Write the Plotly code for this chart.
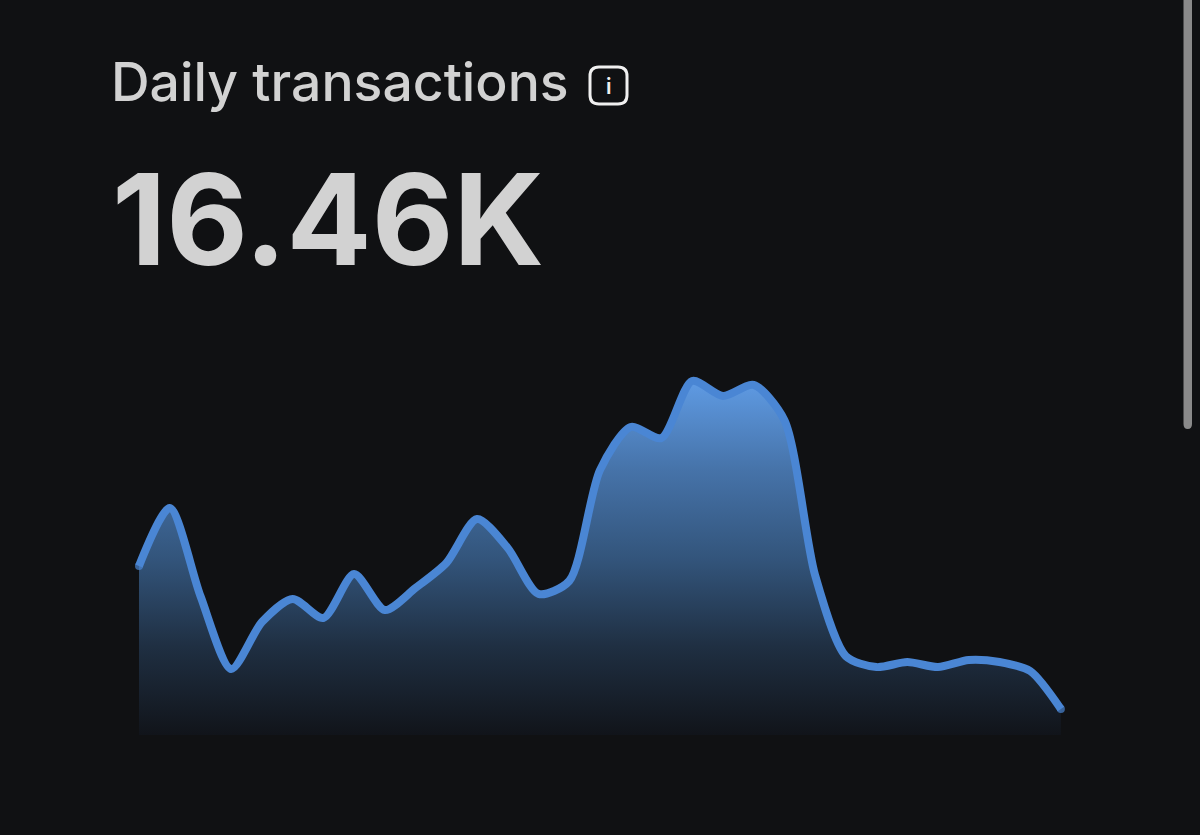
import plotly.graph_objects as go

# Values in thousands (relative sparkline scale)
days = list(range(31))
transactions_k = [107.0, 143.7, 88.0, 41.8, 71.5, 86.1, 74.1, 101.9, 79.1, 93.1, 108.9,
                  136.7, 118.4, 89.3, 97.5, 167.7, 195.0, 188.0, 224.1, 214.6, 221.6,
                  199.4, 101.3, 50.0, 43.0, 46.2, 43.0, 47.5, 46.2, 40.5, 16.46]
title_text = "Daily transactions"
value_text = "16.46K"

BG = "#101113"
TEXT = "#d2d2d2"
LINE = "#4a86d4"
W, H = 1200, 835

fig = go.Figure()
fig.add_trace(go.Scatter(
    x=days, y=transactions_k,
    mode="lines+markers",
    line=dict(color=LINE, width=8, shape="spline", smoothing=0.75),
    marker=dict(color=LINE, size=[8] + [0] * 29 + [8], line=dict(width=0)),
    fill="tozeroy",
    fillgradient=dict(
        type="vertical",
        colorscale=[[0, "#11141a"], [0.25, "#1f2f42"], [0.5, "#33557c"], [0.75, "#4673a9"], [1, "#5f9be4"]],
    ),
    hoverinfo="skip",
))

fig.update_layout(
    width=W, height=H,
    margin=dict(l=0, r=0, t=0, b=0),
    paper_bgcolor=BG, plot_bgcolor=BG,
    showlegend=False,
    xaxis=dict(visible=False, range=[-4.523, 34.527], fixedrange=True),
    yaxis=dict(visible=False, range=[-63.3, 465.3], fixedrange=True),
    annotations=[
        dict(text=title_text, xref="paper", yref="paper", x=109 / W, y=1 - 81 / H, xanchor="left", yanchor="middle",
             showarrow=False, font=dict(family="Inter", size=53.5, weight=500, color=TEXT)),
        dict(text="<b>" + value_text + "</b>", xref="paper", yref="paper", x=110 / W, y=1 - 219 / H, xanchor="left",
             yanchor="middle", showarrow=False, font=dict(family="Inter", size=126, color=TEXT)),
        dict(text="i", xref="paper", yref="paper", x=608.5 / W, y=1 - 86 / H, xanchor="center", yanchor="middle",
             showarrow=False, font=dict(family="Inter", size=21, weight=600, color="#f0f0f0")),
    ],
    shapes=[
        dict(type="path", xref="paper", yref="paper",
             path=f"M {599/W} {1-67/H} L {618/W} {1-67/H} Q {627/W} {1-67/H} {627/W} {1-76/H} L {627/W} {1-95/H} "
                  f"Q {627/W} {1-104/H} {618/W} {1-104/H} L {599/W} {1-104/H} Q {590/W} {1-104/H} {590/W} {1-95/H} "
                  f"L {590/W} {1-76/H} Q {590/W} {1-67/H} {599/W} {1-67/H} Z",
             line=dict(color="#f0f0f0", width=3), fillcolor="rgba(0,0,0,0)"),
        dict(type="path", xref="paper", yref="paper",
             path=f"M {1183.5/W} 1 L {1192/W} 1 L {1192/W} {1-424/H} Q {1192/W} {1-429/H} {1187.7/W} {1-429/H} "
                  f"Q {1183.5/W} {1-429/H} {1183.5/W} {1-424/H} Z",
             line=dict(width=0), fillcolor="#8a8a8a"),
    ],
)

fig.write_html("out.html", config={"displayModeBar": False},
               post_script="document.body.style.margin='0';document.body.style.background='#101113';")
